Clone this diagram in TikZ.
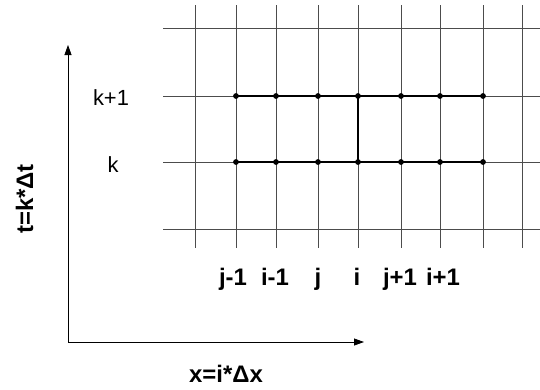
\documentclass[tikz,border=0pt]{standalone}
\usepackage{fontspec}
\setmainfont{Liberation Sans}
\usetikzlibrary{arrows.meta}

\begin{document}
\begin{tikzpicture}[
    x=1bp, y=-1bp,
    every node/.style={font=\fontsize{22}{26}\selectfont, inner sep=0pt},
    boldlabel/.style={font=\fontsize{24}{28}\selectfont\bfseries, anchor=base},
    gridline/.style={line width=0.8bp, black!70},
    stencil/.style={line width=2.8bp},
    >={Triangle[length=10bp, width=7bp]},
]
\useasboundingbox (0,0) rectangle (540,389);

% === Grid ===
\foreach \gx in {195,236,276,318,358,401,440,483,522}
    \draw[gridline] (\gx,5) -- (\gx,248);
\foreach \gy in {28,96,162,229}
    \draw[gridline] (163,\gy) -- (540,\gy);

% === Stencil ===
\coordinate (kl) at (236,162);
\coordinate (kr) at (483,162);
\coordinate (kpl) at (236,96);
\coordinate (kpr) at (483,96);
\coordinate (ik) at (358,162);
\coordinate (ikp) at (358,96);
\draw[stencil] (kpl) -- (kpr);
\draw[stencil] (kl) -- (kr);
\draw[stencil] (ik) -- (ikp);
\foreach \gx in {236,276,318,358,401,440,483} {
    \fill (\gx,96) circle (2.9bp);
    \fill (\gx,162) circle (2.9bp);
}

% === Axes ===
\coordinate (origin) at (68,342);
\coordinate (tend) at (68,45);
\coordinate (xend) at (364,342);
\draw[->, line width=0.8bp] (origin) -- (tend);
\draw[->, line width=0.8bp] (origin) -- (xend);

% === Labels ===
\node[anchor=base] (kp1) at (111,105) {k+1};
\node[anchor=base] (k) at (113,172) {k};
\node[boldlabel, rotate=90] (tlab) at (33,199) {t=k*Δt};
\node[boldlabel] (xlab) at (226,382) {x=i*Δx};
\node[boldlabel] (jm1) at (233,285) {j-1};
\node[boldlabel] (im1) at (275,285) {i-1};
\node[boldlabel] (j) at (318,285) {j};
\node[boldlabel] (i) at (357,285) {i};
\node[boldlabel] (jp1) at (400,285) {j+1};
\node[boldlabel] (ip1) at (443,285) {i+1};

\end{tikzpicture}
\end{document}
